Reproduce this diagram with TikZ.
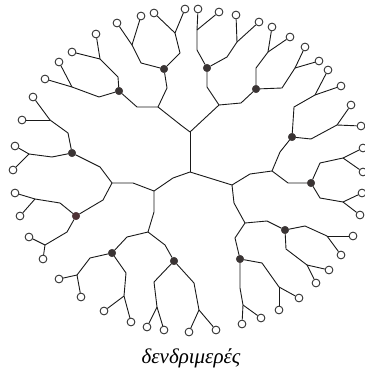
\documentclass[tikz,border=0pt]{standalone}
\usepackage{fontspec}
\newfontfamily\grk{Liberation Serif}
\definecolor{darkdot}{HTML}{3A3434}
\definecolor{reddot}{HTML}{4E3236}
\tikzset{
  bond/.style={draw=black!90, line width=0.9pt, line join=round},
  leaf/.style={circle, draw=black!90, line width=0.8pt, fill=white, minimum size=7.8pt, inner sep=0pt},
  core/.style={circle, draw=darkdot, line width=0.5pt, fill=darkdot, minimum size=7.5pt, inner sep=0pt}
}
\newcommand\subbr[6]{%
  \coordinate (#2) at #4;
  \node[leaf] (#2-1) at #5 {};
  \node[leaf] (#2-2) at #6 {};
  \draw[bond] (#1) -- #3 -- (#2);
  \draw[bond] (#2) -- (#2-1);
  \draw[bond] (#2) -- (#2-2);
}
\begin{document}
\begin{tikzpicture}[x=1pt,y=-1pt]
\useasboundingbox (0,0) rectangle (364,374);
% core junctions
\coordinate (C) at (190,172);
\coordinate (U) at (190,132);
\coordinate (L) at (154,191);
\coordinate (R) at (232,185);
\coordinate (J1) at (158,107);
\coordinate (J2) at (219,105);
\coordinate (J3) at (272,171);
\coordinate (J4) at (245,223);
\coordinate (J5) at (112,183);
\coordinate (J6) at (148,232);
% dark nodes
\node[core] (D1) at (119,91) {};
\node[core] (D2) at (164,69) {};
\node[core] (D3) at (207,68) {};
\node[core] (D4) at (256,89) {};
\node[core] (D5) at (292,137) {};
\node[core] (D6) at (311,183) {};
\node[core] (D7) at (285,230) {};
\node[core] (D8) at (240,259) {};
\node[core] (D9) at (72,153) {};
\node[core, draw=reddot, fill=reddot] (D10) at (76,216) {};
\node[core] (D11) at (112,253) {};
\node[core] (D12) at (174,261) {};
% core bonds
\draw[bond] (C) -- (U);
\draw[bond] (C) -- (173,178) -- (L);
\draw[bond] (C) -- (R);
\draw[bond] (U) -- (182,126) -- (J1);
\draw[bond] (U) -- (J2);
\draw[bond] (J1) -- (137,107) -- (D1);
\draw[bond] (J1) -- (167,88) -- (D2);
\draw[bond] (J2) -- (207,87) -- (D3);
\draw[bond] (J2) -- (241,103) -- (D4);
\draw[bond] (R) -- (250,174) -- (J3);
\draw[bond] (R) -- (234,203) -- (J4);
\draw[bond] (J3) -- (280,152) -- (D5);
\draw[bond] (J3) -- (288,183) -- (D6);
\draw[bond] (J4) -- (267,221) -- (D7);
\draw[bond] (J4) -- (235,238) -- (D8);
\draw[bond] (L) -- (133,183) -- (J5);
\draw[bond] (L) -- (154,212) -- (J6);
\draw[bond] (J5) -- (100,167) -- (D9);
\draw[bond] (J5) -- (103,200) -- (D10);
\draw[bond] (J6) -- (127,237) -- (D11);
\draw[bond] (J6) -- (165,245) -- (D12);
% outer generation
\subbr{D1}{k1a}{(118,77)}{(100,59)}{(96,34)}{(72,52)}
\subbr{D1}{k1b}{(99,97)}{(72,87)}{(59,62)}{(45,79)}
\subbr{D2}{k2a}{(141,63)}{(132,45)}{(117,23)}{(141,16)}
\subbr{D2}{k2b}{(180,53)}{(175,33)}{(154,13)}{(185,9)}
\subbr{D3}{k3a}{(197,50)}{(197,30)}{(198,9)}{(219,12)}
\subbr{D3}{k3b}{(227,57)}{(237,42)}{(236,15)}{(259,22)}
\subbr{D4}{k4a}{(256,68)}{(268,52)}{(272,27)}{(290,37)}
\subbr{D4}{k4b}{(282,88)}{(295,68)}{(305,47)}{(319,61)}
\subbr{D5}{k5a}{(294,107)}{(315,95)}{(328,70)}{(341,86)}
\subbr{D5}{k5b}{(311,139)}{(337,125)}{(351,105)}{(361,126)}
\subbr{D6}{k6a}{(320,163)}{(343,158)}{(363,148)}{(363,172)}
\subbr{D6}{k6b}{(320,198)}{(343,202)}{(362,193)}{(360,215)}
\subbr{D7}{k7a}{(305,226)}{(327,236)}{(353,236)}{(341,255)}
\subbr{D7}{k7b}{(286,249)}{(307,265)}{(329,270)}{(316,283)}
\subbr{D8}{k8a}{(262,263)}{(279,287)}{(299,298)}{(279,310)}
\subbr{D8}{k8b}{(240,288)}{(243,305)}{(261,318)}{(242,324)}
\subbr{D12}{k12a}{(194,283)}{(199,310)}{(216,330)}{(189,332)}
\subbr{D12}{k12b}{(154,282)}{(157,307)}{(147,327)}{(164,330)}
\subbr{D11}{k11a}{(90,258)}{(77,275)}{(59,279)}{(81,297)}
\subbr{D11}{k11b}{(126,273)}{(124,296)}{(104,311)}{(131,322)}
\subbr{D10}{k10a}{(60,203)}{(35,199)}{(15,193)}{(20,216)}
\subbr{D10}{k10b}{(67,232)}{(45,245)}{(29,237)}{(43,259)}
\subbr{D9}{k9a}{(68,133)}{(50,120)}{(33,97)}{(22,120)}
\subbr{D9}{k9b}{(52,157)}{(29,154)}{(15,146)}{(13,170)}
% caption
\node[anchor=base, inner sep=0pt, font=\grk\itshape\fontsize{21}{24}\selectfont] (cap) at (191,363) {δενδριμερές};
\end{tikzpicture}
\end{document}
